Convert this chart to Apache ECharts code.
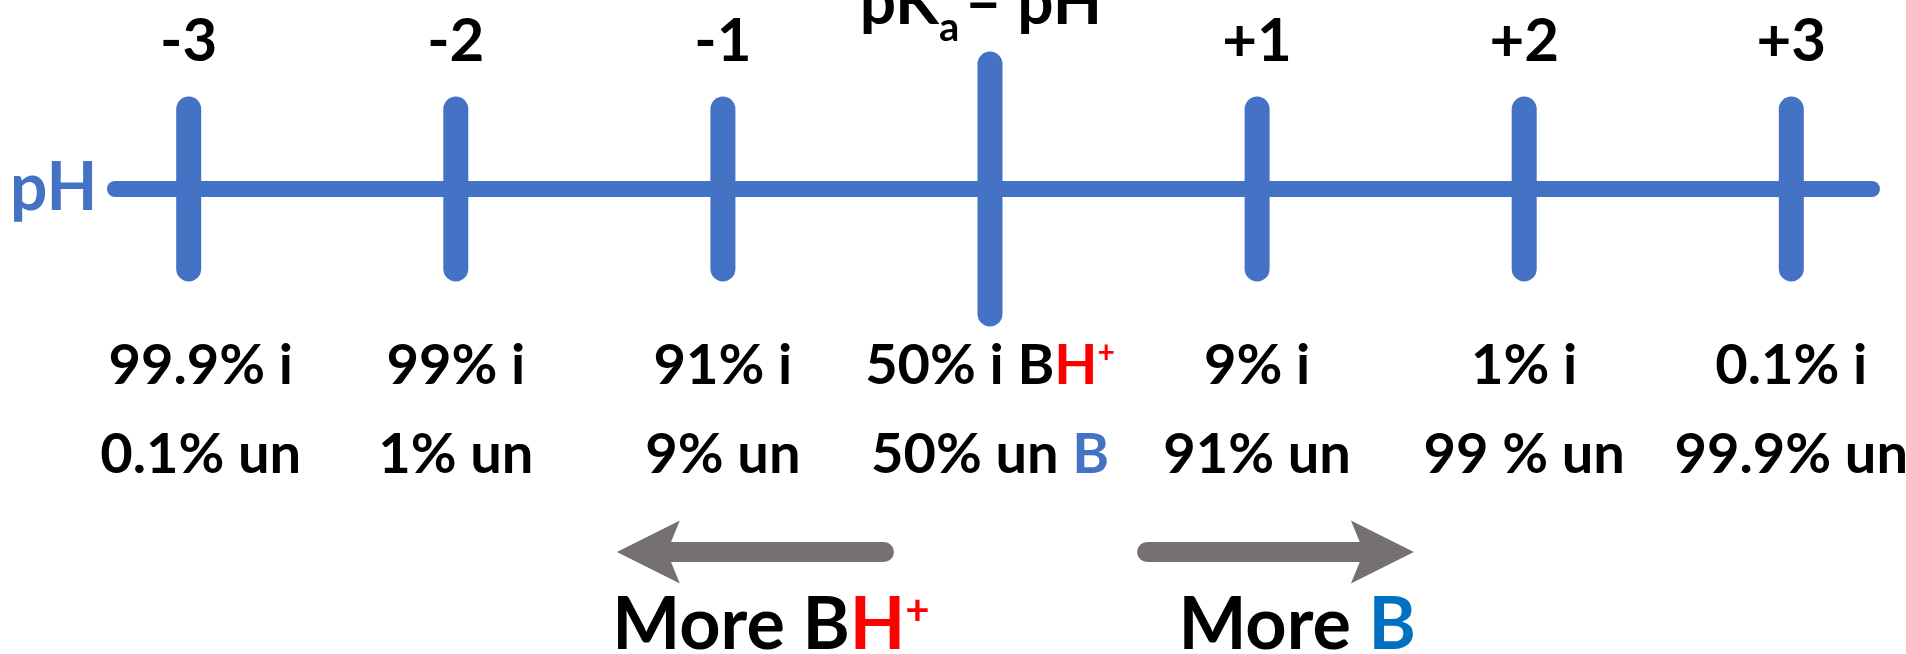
<!DOCTYPE html>
<html>
<head>
<meta charset="utf-8">
<script src="https://cdn.jsdelivr.net/npm/echarts@6/dist/echarts.min.js"></script>
<style>
  html, body { margin: 0; padding: 0; background: #fff; }
  #chart { width: 1906px; height: 654px; }
</style>
</head>
<body>
<div id="chart"></div>
<script>
// pKa - pH offsets marked on the pH line
const tickValues = [-3, -2, -1, 0, 1, 2, 3];
const tickLabels = ['-3', '-2', '-1', '', '+1', '+2', '+3'];
const ionized = ['99.9% i', '99% i', '91% i', '50% i', '9% i', '1% i', '0.1% i'];
const unionized = ['0.1% un', '1% un', '9% un', '50% un', '91% un', '99 % un', '99.9% un'];
const tickHalf = [80, 80, 80, 125, 80, 80, 80];
const lineRange = [-3.276, 3.302];
const arrowSpans = [[-0.397, -1.397], [0.588, 1.587]]; // tail, tip

const BLUE = '#4472C4';
const GREY = '#767171';
const RED = '#FF0000';
const DEEPBLUE = '#0070C0';
const FONT = 'Lato';

// y is measured in px above the pH line
const Y_TOP = 147;
const Y_TITLE = 186;
const Y_ROW1 = -177;
const Y_ROW2 = -266;
const Y_ARROW = -363;
const Y_MORE = -437;
const captionX = [-0.82, 1.15];

const chart = echarts.init(document.getElementById('chart'));

function textSeries(name, items, fontSize, extraLabel) {
    return {
        type: 'scatter',
        name: name,
        symbolSize: 0,
        silent: true,
        z: 5,
        itemStyle: { opacity: 1 },
        data: items,
        label: Object.assign({
            show: true,
            position: 'inside',
            fontFamily: FONT,
            fontWeight: 'bold',
            fontSize: fontSize,
            color: '#000',
            formatter: (p) => p.data.text
        }, extraLabel || {})
    };
}

const rowRich = {
    b: { fontFamily: FONT, fontWeight: 'bold', fontSize: 56, color: BLUE },
    r: { fontFamily: FONT, fontWeight: 'bold', fontSize: 56, color: RED },
    sup: { fontFamily: FONT, fontWeight: 'bold', fontSize: 30, color: RED, verticalAlign: 'top', lineHeight: 36 }
};

const row1 = ionized.map((t, i) => ({
    value: [tickValues[i], Y_ROW1],
    text: tickValues[i] === 0 ? t + ' B{r|H}{sup|+}' : t,
    label: i === 0 ? { offset: [12, 0] } : undefined
}));
const row2 = unionized.map((t, i) => ({
    value: [tickValues[i], Y_ROW2],
    text: tickValues[i] === 0 ? t + ' {b|B}' : t,
    label: i === 0 ? { offset: [12, 0] } : undefined
}));
const topRow = tickLabels.map((t, i) => ({ value: [tickValues[i], Y_TOP], text: t }));

const option = {
    animation: false,
    backgroundColor: '#fff',
    grid: { left: 0, right: 0, top: 0, bottom: 0 },
    xAxis: { type: 'value', min: -990 / 267.1, max: 916 / 267.1, show: false },
    yAxis: { type: 'value', min: -465, max: 189, show: false },
    series: [
        {
            type: 'line',
            name: 'pH line',
            data: [[lineRange[0], 0], [lineRange[1], 0]],
            showSymbol: false,
            silent: true,
            lineStyle: { color: BLUE, width: 16, cap: 'round' }
        },
        {
            type: 'custom',
            name: 'ticks',
            silent: true,
            data: tickValues.map((v, i) => [v, tickHalf[i]]),
            renderItem: (params, api) => {
                const top = api.coord([api.value(0), api.value(1)]);
                const bottom = api.coord([api.value(0), -api.value(1)]);
                return {
                    type: 'line',
                    shape: { x1: top[0], y1: top[1], x2: bottom[0], y2: bottom[1] },
                    style: { stroke: BLUE, lineWidth: 25, lineCap: 'round' }
                };
            }
        },
        {
            type: 'custom',
            name: 'arrows',
            silent: true,
            data: arrowSpans,
            renderItem: (params, api) => {
                const tail = api.coord([api.value(0), Y_ARROW]);
                const tip = api.coord([api.value(1), Y_ARROW]);
                const d = tip[0] > tail[0] ? 1 : -1;
                const len = 63, half = 31.5, notch = 50;
                return {
                    type: 'group',
                    children: [
                        {
                            type: 'line',
                            shape: { x1: tail[0], y1: tail[1], x2: tip[0] - d * (notch + 4), y2: tip[1] },
                            style: { stroke: GREY, lineWidth: 20, lineCap: 'round' }
                        },
                        {
                            type: 'polygon',
                            shape: { points: [
                                [tip[0], tip[1]],
                                [tip[0] - d * len, tip[1] - half],
                                [tip[0] - d * notch, tip[1]],
                                [tip[0] - d * len, tip[1] + half]
                            ] },
                            style: { fill: GREY }
                        }
                    ]
                };
            }
        },
        textSeries('top labels', topRow, 60),
        textSeries('ionized', row1, 56, { rich: rowRich }),
        textSeries('unionized', row2, 56, { rich: rowRich }),
        textSeries('pH', [{ value: [-3.669, 0], text: 'pH' }], 66, { color: BLUE, align: 'left' }),
        // title pieces: "pK" + subscript "a" + " – pH"
        textSeries('title', [{ value: [-0.191, Y_TITLE], text: 'pK' }], 64, { align: 'right' }),
        textSeries('title sub', [{ value: [-0.191, Y_TITLE - 25], text: 'a' }], 40, { align: 'left' }),
        textSeries('title end', [{ value: [-0.095, Y_TITLE], text: '– pH' }], 64, { align: 'left' }),
        textSeries('captions', [
            { value: [captionX[0], Y_MORE], text: 'More B{r|H}{sup|+}' },
            { value: [captionX[1], Y_MORE], text: 'More {b|B}' }
        ], 72, {
            rich: {
                b: { fontFamily: FONT, fontWeight: 'bold', fontSize: 72, color: DEEPBLUE },
                r: { fontFamily: FONT, fontWeight: 'bold', fontSize: 72, color: RED },
                sup: { fontFamily: FONT, fontWeight: 'bold', fontSize: 42, color: RED, verticalAlign: 'top', lineHeight: 52 }
            }
        })
    ]
};

chart.setOption(option);
</script>
</body>
</html>
